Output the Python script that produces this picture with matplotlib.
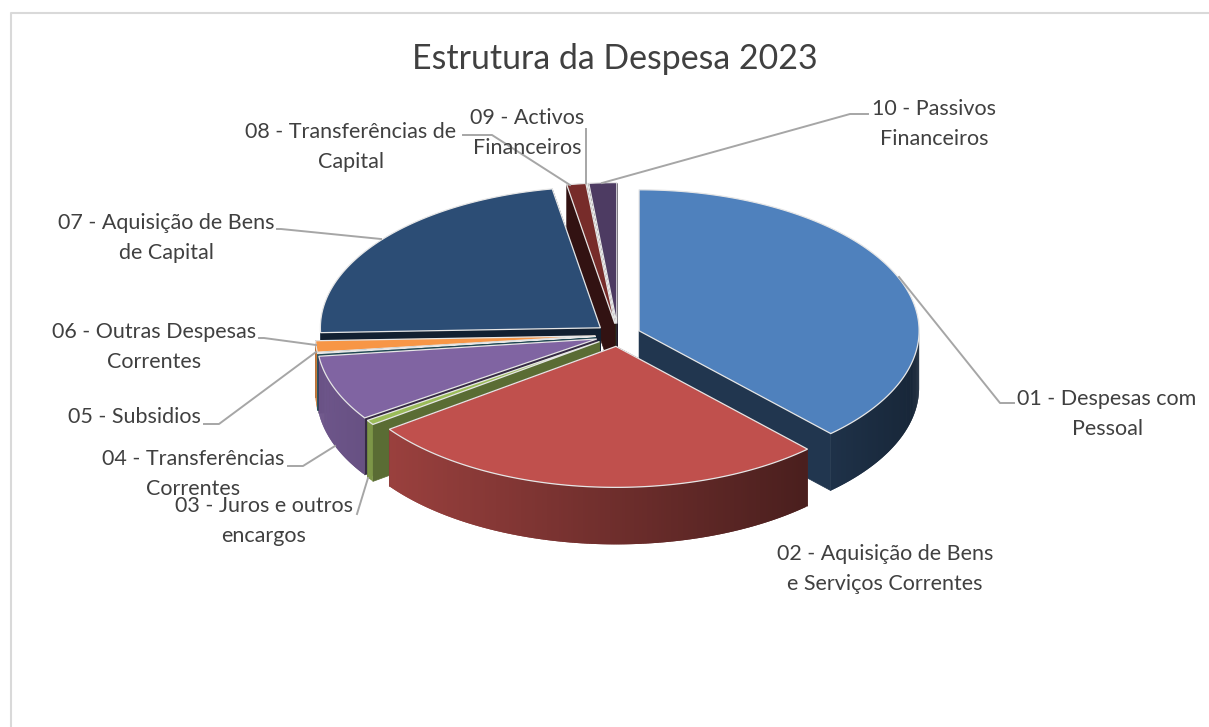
import numpy as np
import matplotlib
matplotlib.use('Agg')
import matplotlib.pyplot as plt
from matplotlib.patches import Polygon

title = 'Estrutura da Despesa 2023'
categories = ['01 - Despesas com\nPessoal', '02 - Aquisição de Bens\ne Serviços Correntes',
              '03 - Juros e outros\nencargos', '04 - Transferências\nCorrentes',
              '05 - Subsidios', '06 - Outras Despesas\nCorrentes',
              '07 - Aquisição de Bens\nde Capital', '08 - Transferências de\nCapital',
              '09 - Activos\nFinanceiros', '10 - Passivos\nFinanceiros']
# share of the total, in percent
values = [38.0, 27.0, 0.55, 7.5, 0.1, 1.3, 22.8, 1.1, 0.05, 1.6]
colors = ['#4F81BD', '#C0504D', '#9BBB59', '#8064A2', '#4BACC6',
          '#F79646', '#2C4D75', '#772C2A', '#5F7530', '#4D3B62']

# label anchor in pixels (centre of the text block)
label_x = [1107, 885, 264, 193, 134, 154, 166, 351, 527, 934]
label_y = [414, 569, 521, 474, 417, 347, 238, 147, 133, 124]
leaders = [[(899, 277), (1000, 403), (1014, 403)],
           None,
           [(368, 478), (357, 514)],
           [(335, 446), (303, 466), (288, 466)],
           [(316, 352), (219, 424), (204, 424)],
           [(316, 345), (264, 338), (259, 338)],
           [(381, 239), (281, 229), (277, 229)],
           [(570, 185), (492, 135), (463, 135)],
           [(586, 183), (586, 129)],
           [(602, 183), (850, 114), (868, 114)]]

# pie geometry in pixels
cx, cy = 618, 335
rx, ry = 280, 141
depth = 57
explode = 0.081


def on_rim(x0, y0, ang):
    t = np.radians(ang)
    return x0 + rx * np.sin(t), y0 - ry * np.cos(t)


def shade(col, k):
    return tuple(min(1, c * k) for c in matplotlib.colors.to_rgb(col))


plt.rcParams['font.family'] = ['Lato', 'DejaVu Sans']
fig = plt.figure(figsize=(12.09, 7.27), dpi=100)
ax = fig.add_axes([0, 0, 1, 1])
ax.set_xlim(0, 1209)
ax.set_ylim(727, 0)
ax.axis('off')

# chart frame
ax.plot([11, 11, 1209], [727, 13, 13], color='#D9D9D9', lw=1.5)

edges = np.cumsum([0] + values) / sum(values) * 360
mids = (edges[:-1] + edges[1:]) / 2

# back slices first so the front ones cover them
for i in np.argsort(-np.cos(np.radians(mids))):
    a0, a1, mid = edges[i], edges[i + 1], mids[i]
    col = colors[i]
    x0, y0 = cx + explode * rx * np.sin(np.radians(mid)), cy - explode * ry * np.cos(np.radians(mid))

    # cut faces
    for a in (a0, a1):
        px, py = on_rim(x0, y0, a)
        k = 0.58 if i == 2 else 0.42
        ax.add_patch(Polygon([(x0, y0), (px, py), (px, py + depth), (x0, y0 + depth)],
                             closed=True, fc=shade(col, k), ec=shade(col, k), lw=0.5))

    # outer wall, only the part that faces us; each strip runs under the next to hide seams
    lo, hi = max(a0, 90), min(a1, 270)
    if hi > lo:
        steps = np.linspace(lo, hi, max(2, int(hi - lo) * 2))
        gap = steps[1] - steps[0]
        for s0 in steps[:-1]:
            k = 0.575 - 0.28 * np.sin(np.radians(s0 + gap / 2))
            arc = [on_rim(x0, y0, a) for a in np.linspace(s0, min(s0 + 2 * gap, hi), 5)]
            low = [(p[0], p[1] + depth) for p in arc[::-1]]
            ax.add_patch(Polygon(arc + low, closed=True, fc=shade(col, k), ec='none'))

    # top face
    arc = [on_rim(x0, y0, a) for a in np.linspace(a0, a1, max(2, int(a1 - a0) * 2))]
    ax.add_patch(Polygon([(x0, y0)] + arc, closed=True, fc=col, ec='#E6E6E6', lw=0.9))

for line in leaders:
    if line:
        ax.plot([p[0] for p in line], [p[1] for p in line], color='#A6A6A6', lw=1.4)

for name, x, y in zip(categories, label_x, label_y):
    ax.text(x, y, name, ha='center', va='center', fontsize=15.5, color='#404040', linespacing=1.6)

ax.text(615, 59, title, ha='center', va='center', fontsize=24.4, color='#404040')

fig.savefig('out.png', dpi=100)
